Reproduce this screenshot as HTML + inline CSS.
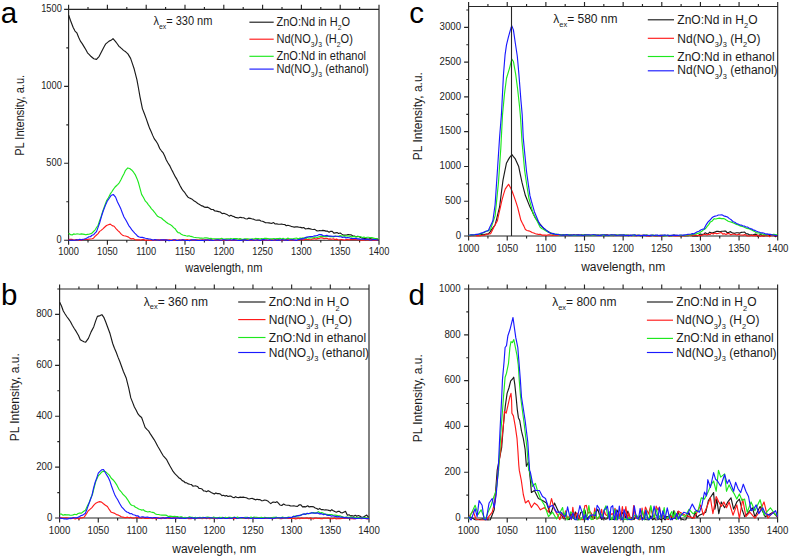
<!DOCTYPE html>
<html><head><meta charset="utf-8"><title>PL spectra</title>
<style>
html,body{margin:0;padding:0;background:#fff;width:789px;height:557px;overflow:hidden;}
svg{display:block;font-family:"Liberation Sans", sans-serif;}
</style></head><body>
<svg width="789" height="557" viewBox="0 0 789 557" font-family='"Liberation Sans", sans-serif'>
<rect width="789" height="557" fill="#fff"/>
<path d="M68.6 9.4H379V240.2H68.6Z M68.6 240.2v4.6 M68.6 9.4v-4.6 M88 240.2v2.4 M88 9.4v-2.4 M107.4 240.2v4.6 M107.4 9.4v-4.6 M126.8 240.2v2.4 M126.8 9.4v-2.4 M146.2 240.2v4.6 M146.2 9.4v-4.6 M165.6 240.2v2.4 M165.6 9.4v-2.4 M185 240.2v4.6 M185 9.4v-4.6 M204.4 240.2v2.4 M204.4 9.4v-2.4 M223.8 240.2v4.6 M223.8 9.4v-4.6 M243.2 240.2v2.4 M243.2 9.4v-2.4 M262.6 240.2v4.6 M262.6 9.4v-4.6 M282 240.2v2.4 M282 9.4v-2.4 M301.4 240.2v4.6 M301.4 9.4v-4.6 M320.8 240.2v2.4 M320.8 9.4v-2.4 M340.2 240.2v4.6 M340.2 9.4v-4.6 M359.6 240.2v2.4 M359.6 9.4v-2.4 M379 240.2v4.6 M379 9.4v-4.6 M68.6 240.2h-4.5 M68.6 163.27h-4.5 M68.6 86.33h-4.5 M68.6 9.4h-4.5 M68.6 201.73h-2.3 M68.6 124.8h-2.3 M68.6 47.87h-2.3" fill="none" stroke="#262626" stroke-width="1.15"/>
<clipPath id="clipa"><rect x="67.4" y="8.4" width="312" height="234.3"/></clipPath>
<g clip-path="url(#clipa)" fill="none" stroke-width="1.15" stroke-linejoin="round">
<polyline stroke="#1a1a1a" points="68.7,15.2 70.5,20.49 73.2,27.49 75,31.09 76.8,32.84 78.6,37.17 80.4,41.12 82.2,43.63 84,46.6 85.75,49.47 87.5,52.86 89.3,54.59 91.1,56.55 93.8,58.75 96.5,59.4 99.2,56.27 101.9,50.93 103.7,47.58 105.5,44.17 107.3,42.6 109.1,41.14 111.05,40.34 113,38.63 115.4,41.42 117.2,43.77 119,46.39 120.5,47.57 122,48.89 123.5,50.39 125.7,51.81 127.9,53.85 130.6,58.38 132.4,63.57 134.2,69.03 136.9,79.54 138.4,87.74 140,96.82 142.4,108.61 144.3,113.56 146.2,118.59 147.95,123.7 149.7,128.57 151.2,131.78 152.7,135.38 154.2,138.62 156,141.05 157.8,143.94 159.6,148.32 161.4,150.78 163.2,152.94 164.7,155.97 166.2,159.69 167.7,162.47 170,166.15 171.55,169.55 173.1,172.39 175.4,176.89 176.95,179.42 178.5,182.6 180.1,185.71 181.7,188.64 183.27,190.95 184.85,192.74 186.43,195.09 188,197.16 189.5,197.91 191,198.61 192.5,199.6 194.28,201.02 196.05,202.08 197.82,203.55 199.6,204.54 201.22,205.64 202.84,206.1 204.46,207.16 206.08,207.44 207.7,207.18 209.5,208.23 211.3,209.55 213.1,209.48 214.9,211.04 216.7,211.13 218.5,211.58 220.3,212.01 222.1,213.6 223.9,213.24 225.7,214.02 227.5,214.84 229.3,216.16 230.8,215.27 232.3,216.12 233.8,216.57 235.3,217.38 236.8,217.58 238.3,217.95 240.08,217.25 241.86,217.63 243.64,217.73 245.42,218.7 247.2,218.99 248.7,218.08 250.2,218.41 251.7,218.8 253.2,219.1 254.7,219.78 256.2,220.23 257.77,220.08 259.35,220.03 260.93,220.99 262.5,221.25 264.07,221.89 265.65,222.8 267.23,222.75 268.8,222.82 270.4,223.12 272,223.35 273.6,222.56 275.2,223.97 276.8,223.93 278.4,224.22 280,224.25 281.57,224.06 283.15,224.5 284.73,224.48 286.3,225.7 287.9,225.27 289.5,225.7 291.1,226.34 292.7,226.69 294.27,227.11 295.85,226.83 297.43,226.9 299,227.28 300.57,227.33 302.15,227.85 303.73,227.46 305.3,228.86 306.9,228.77 308.5,228.37 310.1,228.83 311.7,229.27 313.27,229.5 314.85,229.33 316.43,230.62 318,231.04 319.6,230.47 321.2,230.73 322.8,230.35 324.4,230.6 325.97,231.11 327.55,231.15 329.12,232.14 330.7,231.29 332.27,231.41 333.85,233.13 335.43,232.82 337,232.57 338.6,233.49 340.2,233.04 341.8,234.12 343.4,235.12 344.97,235.09 346.55,234.99 348.12,234.49 349.7,234.8 351.27,234.83 352.85,236.06 354.43,236.02 356,236.72 357.6,236.34 359.2,236.48 360.8,237.67 362.4,238.23 363.97,238.35 365.55,238.61 367.12,238.95 368.7,239.16 370.28,238.54 371.87,239.13 373.45,239.03 375.03,238.69 376.62,238.84 378.2,239.7"/>
<polyline stroke="#ff1a1a" points="68.6,239.5 70.17,239.33 71.73,239.33 73.3,239.75 74.87,240.01 76.43,239.58 78,240.04 79.57,240.11 81.13,240.11 82.7,239.6 84.27,239.5 85.83,239.53 87.4,239.53 88.93,239.06 90.45,238.96 91.97,238.74 93.5,238.21 95.03,236.35 96.57,234.97 98.1,233.57 99.6,231.39 101.1,230.38 102.6,229.07 104.55,227.25 106.5,225.53 108.4,224.83 110.3,224.11 112.2,225.66 114.1,226.25 116,228.57 117.9,230.62 119.45,232.01 121,233.91 122.5,235.17 124,235.74 125.5,236 127.03,236.54 128.55,237.14 130.07,238.39 131.6,238.88 133.14,238.56 134.68,239.45 136.22,239.87 137.76,239.86 139.3,239.87 140.8,240.04 142.3,239.67 143.81,239.57 145.31,240.43 146.81,240.14 148.31,240.03 149.81,240.4 151.31,239.95 152.82,240.34 154.32,240.3 155.82,239.75 157.32,239.79 158.82,239.83 160.33,239.78 161.83,240.09 163.33,239.8 164.83,239.94 166.33,239.68 167.84,240.39 169.34,239.89 170.84,239.98 172.34,240.1 173.84,240.39 175.34,239.95 176.85,240.4 178.35,240.03 179.85,240.05 181.35,240.05 182.85,239.59 184.36,239.97 185.86,239.74 187.36,239.58 188.86,240.3 190.36,239.74 191.87,240.01 193.37,240.24 194.87,240.09 196.37,239.88 197.87,240.05 199.37,240.09 200.88,240.29 202.38,239.68 203.88,240.09 205.38,239.81 206.88,239.84 208.39,240.29 209.89,240.05 211.39,240.1 212.89,240.28 214.39,240.42 215.9,240 217.4,240.15 218.9,240.05 220.4,240.06 221.9,240.22 223.4,240.01 224.91,240.08 226.41,240.03 227.91,240.45 229.41,240.24 230.91,240.4 232.42,240.46 233.92,239.84 235.42,240.11 236.92,240.46 238.42,240.37 239.93,239.74 241.43,239.72 242.93,240.01 244.43,239.68 245.93,239.83 247.43,239.68 248.94,240.22 250.44,240.32 251.94,240.43 253.44,239.76 254.94,240.27 256.45,240.22 257.95,239.75 259.45,240.42 260.95,240.5 262.45,239.82 263.96,240.48 265.46,239.99 266.96,240.07 268.46,240.52 269.96,240.38 271.46,239.78 272.97,240.02 274.47,240.1 275.97,239.94 277.47,239.81 278.97,239.92 280.48,240.29 281.98,239.66 283.48,240.14 284.98,240.04 286.48,239.66 287.99,239.94 289.49,240.2 290.99,240.11 292.49,239.7 293.99,240.53 295.49,240.36 297,240.52 298.5,239.74 300,239.89 301.67,239.57 303.33,240.12 305,239.54 306.67,239.3 308.33,239.45 310,239.77 311.51,239.52 313.03,238.84 314.54,238.57 316.06,239.09 317.57,238.61 319.09,238.55 320.6,237.83 322.17,237.9 323.73,238.57 325.3,238.43 326.87,238.22 328.43,239.09 330,238.92 331.67,239.24 333.33,238.76 335,239.62 336.67,239.08 338.33,239.96 340,239.76 341.52,239.67 343.04,239.88 344.56,240.23 346.08,239.66 347.6,239.55 349.12,239.92 350.64,239.68 352.16,239.58 353.68,239.64 355.2,239.56 356.72,239.71 358.24,239.82 359.76,239.83 361.28,240.26 362.8,239.85 364.32,240.06 365.84,239.78 367.36,239.95 368.88,239.67 370.4,239.9 371.92,239.7 373.44,240.36 374.96,240.21 376.48,239.9 378,240.2"/>
<polyline stroke="#1ee81e" points="68.6,233.3 70.6,234.78 72.13,234.92 73.67,233.91 75.2,234.29 76.72,233.94 78.25,234 79.78,234.3 81.3,233.9 82.83,234.13 84.35,234.42 85.88,234.81 87.4,234.36 88.93,234.3 90.47,233.69 92,233.12 93.5,231.51 95,230.06 96.55,227.5 98.1,225.27 99.6,220.65 101.1,216.68 102.6,211.68 104.55,206.25 106.5,200.83 108.4,197.71 110.3,193.93 111.83,191.72 113.37,189.34 114.9,187.27 116.4,185.78 117.9,184.4 119.4,182.59 120.95,179.8 122.5,176.59 124,173.77 125.5,170.33 127.8,167.94 129.7,168.47 131.6,169.92 133.55,172.23 135.5,175.17 137,178.65 138.5,182.79 140.05,188.63 141.6,194.4 143.5,197.53 145.4,201.2 146.93,202.68 148.45,204.84 149.97,206.61 151.5,208.81 153.03,210.39 154.55,212.27 156.07,214.42 157.6,216.26 159.5,217.33 161.4,218.03 162.93,219.49 164.47,220.68 166,221.99 168,223.49 170,224.4 171.8,225.69 173.6,227.64 175.1,228.68 176.6,231 178.1,232.73 179.68,232.86 181.25,234.25 182.82,234.98 184.4,235.41 185.96,235.79 187.53,236.13 189.09,235.8 190.65,236.42 192.21,236.68 193.78,237.25 195.34,237.5 196.9,237.79 198.47,237.71 200.05,238.13 201.62,238.08 203.2,238.22 204.78,237.94 206.35,237.9 207.93,238.13 209.5,238.47 211.03,238.26 212.55,238.93 214.07,238.7 215.6,238.77 217.12,238.79 218.65,238.85 220.18,238.7 221.7,238.27 223.22,239 224.75,238.97 226.28,238.77 227.8,238.81 229.32,238.94 230.85,238.42 232.38,239.04 233.9,238.62 235.43,238.47 236.95,238.66 238.47,239.09 240,238.63 241.54,239.11 243.08,239.31 244.62,238.87 246.15,238.76 247.69,238.84 249.23,239.02 250.77,239.09 252.31,238.94 253.85,238.96 255.38,238.44 256.92,238.5 258.46,238.59 260,239.02 261.54,238.62 263.08,238.85 264.62,238.34 266.15,238.37 267.69,238.55 269.23,238.91 270.77,238.92 272.31,238.9 273.85,238.54 275.38,238.74 276.92,238.68 278.46,238.68 280,238.36 281.54,239.03 283.08,238.38 284.62,239.06 286.15,239 287.69,238.15 289.23,238.52 290.77,238.83 292.31,238.94 293.85,238.45 295.38,238.26 296.92,238.19 298.46,238.82 300,238.14 301.5,238.37 303,237.88 304.5,238.12 306,238.41 307.5,237.57 309,238.09 310.5,237.71 312,237.95 313.67,237.62 315.33,237.02 317,237.46 318.67,236.92 320.33,236.34 322,236.15 323.67,236.63 325.33,236.62 327,236.52 328.67,236.41 330.33,236.63 332,236.63 333.63,236.93 335.26,236.01 336.89,236.51 338.51,236.42 340.14,235.6 341.77,236.16 343.4,235.79 344.97,236.12 346.55,235.74 348.12,235.97 349.7,236.15 351.27,236.86 352.85,236.66 354.43,236.61 356,236.84 357.59,236.77 359.18,236.64 360.76,236.77 362.35,237.5 363.94,237.08 365.52,237.74 367.11,237.2 368.7,237.29 370.28,237.69 371.87,237.59 373.45,237.94 375.03,238.64 376.62,238.76 378.2,238.6"/>
<polyline stroke="#1a1aff" points="68.6,240 70.19,240.24 71.77,240.04 73.36,240.26 74.95,240.25 76.54,239.86 78.12,239.97 79.71,239.33 81.3,239.91 82.83,239.21 84.35,239.03 85.88,238.48 87.4,237.71 88.93,236.72 90.45,236.73 91.97,235.24 93.5,234.77 95,233.16 96.5,231.62 98.05,227.42 99.6,223.03 101.5,216.28 103.4,210.54 105.3,205.62 107.2,201.25 109.1,198.45 111,195.6 113.3,194.5 115.6,197.14 117.5,201.97 119.4,205.8 120.93,209.11 122.47,213.3 124,216.95 125.53,219.49 127.07,222.24 128.6,225.32 130.13,227.3 131.67,229.59 133.2,231.43 134.73,233.07 136.27,234.58 137.8,236.36 139.33,237.05 140.85,237.32 142.38,237.42 143.9,237.82 145.42,238.28 146.94,238.51 148.46,238.83 149.98,238.95 151.5,239.5 153.11,240.18 154.72,239.47 156.33,239.87 157.94,240.04 159.56,240.3 161.17,239.78 162.78,239.88 164.39,239.92 166,240.11 167.5,240.15 169,240.6 170.5,240.51 172,240.53 173.5,239.76 175,239.77 176.5,240.37 178,240.54 179.5,240.16 181,240.26 182.5,239.73 184,240.08 185.5,240.55 187,240.46 188.5,240.49 190,240.59 191.5,239.93 193,239.81 194.5,239.85 196,240.17 197.5,240.32 199,240.55 200.5,240.35 202,240.28 203.5,240.38 205,240.1 206.5,240.18 208,239.72 209.5,240.39 211,239.89 212.5,240.51 214,240.26 215.5,239.95 217,239.79 218.5,239.9 220,240.24 221.5,240.29 223,239.76 224.5,239.72 226,240.13 227.5,240.18 229,240 230.5,239.85 232,240.19 233.5,239.66 235,239.92 236.5,240.06 238,240.5 239.5,240.22 241,240.43 242.5,240.06 244,239.84 245.5,239.85 247,240.49 248.5,240.26 250,239.9 251.5,239.64 253,240.07 254.5,240.22 256,239.99 257.5,239.84 259,240.21 260.5,240.44 262,239.81 263.5,239.63 265,239.9 266.5,239.98 268,240.21 269.5,239.77 271,240.31 272.5,240.25 274,240.04 275.5,239.77 277,240.45 278.5,239.86 280,240.32 281.5,239.78 283,239.77 284.5,240.25 286,239.83 287.5,240.42 289,240.01 290.5,239.73 292,239.76 293.5,239.93 295,240.15 296.5,240.41 298,239.68 299.82,239.38 301.65,238.69 303.48,238.85 305.3,237.58 306.9,237.1 308.5,236.7 310.1,236.6 311.7,236.66 313.22,236.31 314.74,235.83 316.26,235.73 317.78,235.33 319.3,234.45 321.2,234.62 323.1,235.59 325,235.72 326.9,235.35 328.8,236.18 330.7,236.19 332.38,236.29 334.07,236.35 335.75,236.3 337.43,236.25 339.12,236.6 340.8,236.77 342.53,237.51 344.27,236.96 346,237.92 347.67,237.45 349.33,237.8 351,238.44 352.67,238.66 354.33,238.52 356,238.39 357.57,238.88 359.14,238.89 360.71,239.48 362.29,238.92 363.86,239.18 365.43,239.76 367,239.08 368.57,239.52 370.14,239.98 371.71,240.04 373.29,239.49 374.86,239.58 376.43,239.71 378,240.2"/>
</g>
<g font-size="10" fill="#222">
<text transform="translate(68.6 254.5) scale(0.93 1)" text-anchor="middle">1000</text>
<text transform="translate(107.4 254.5) scale(0.93 1)" text-anchor="middle">1050</text>
<text transform="translate(146.2 254.5) scale(0.93 1)" text-anchor="middle">1100</text>
<text transform="translate(185 254.5) scale(0.93 1)" text-anchor="middle">1150</text>
<text transform="translate(223.8 254.5) scale(0.93 1)" text-anchor="middle">1200</text>
<text transform="translate(262.6 254.5) scale(0.93 1)" text-anchor="middle">1250</text>
<text transform="translate(301.4 254.5) scale(0.93 1)" text-anchor="middle">1300</text>
<text transform="translate(340.2 254.5) scale(0.93 1)" text-anchor="middle">1350</text>
<text transform="translate(379 254.5) scale(0.93 1)" text-anchor="middle">1400</text>
<text transform="translate(61.8 242.9) scale(0.93 1)" text-anchor="end">0</text>
<text transform="translate(61.8 165.97) scale(0.93 1)" text-anchor="end">500</text>
<text transform="translate(61.8 89.03) scale(0.93 1)" text-anchor="end">1000</text>
<text transform="translate(61.8 12.1) scale(0.93 1)" text-anchor="end">1500</text>
</g>
<text transform="translate(223.8 272) scale(0.92 1)" font-size="12" text-anchor="middle" fill="#1a1a1a">wavelength, nm</text>
<text transform="translate(23.7 115.35) rotate(-90) scale(0.92 1)" font-size="12" text-anchor="middle" fill="#1a1a1a">PL Intensity, a.u.</text>
<line x1="249.4" y1="22.2" x2="273.7" y2="22.2" stroke="#1a1a1a" stroke-width="1.15"/>
<text transform="translate(276.5 25.7) scale(0.92 1)" font-size="12" fill="#1a1a1a">ZnO:Nd in H<tspan font-size="7.44" dy="4.44">2</tspan><tspan dy="-4.44">O</tspan></text>
<line x1="249.4" y1="39.2" x2="273.7" y2="39.2" stroke="#ff1a1a" stroke-width="1.15"/>
<text transform="translate(276.5 42.7) scale(0.92 1)" font-size="12" fill="#1a1a1a">Nd(NO<tspan font-size="7.44" dy="4.44">3</tspan><tspan dy="-4.44">)</tspan><tspan font-size="7.44" dy="4.44">3</tspan><tspan dy="-4.44"> (H</tspan><tspan font-size="7.44" dy="4.44">2</tspan><tspan dy="-4.44">O)</tspan></text>
<line x1="249.4" y1="56.3" x2="273.7" y2="56.3" stroke="#1ee81e" stroke-width="1.15"/>
<text transform="translate(276.5 59.7) scale(0.92 1)" font-size="12" fill="#1a1a1a">ZnO:Nd in ethanol</text>
<line x1="249.4" y1="69.1" x2="273.7" y2="69.1" stroke="#1a1aff" stroke-width="1.15"/>
<text transform="translate(276.5 72.5) scale(0.92 1)" font-size="12" fill="#1a1a1a">Nd(NO<tspan font-size="7.44" dy="4.44">3</tspan><tspan dy="-4.44">)</tspan><tspan font-size="7.44" dy="4.44">3</tspan><tspan dy="-4.44"> (ethanol)</tspan></text>
<text transform="translate(153.4 25) scale(0.92 1)" font-size="12" fill="#1a1a1a">&#955;<tspan font-size="7.44" dy="3.96">ex</tspan><tspan dy="-3.96">= 330 nm</tspan></text>
<text x="0.8" y="22.8" font-size="29.5" fill="#000">a</text>
<path d="M59.6 289H369V518H59.6Z M59.6 518v4.6 M59.6 289v-4.6 M78.94 518v2.4 M78.94 289v-2.4 M98.28 518v4.6 M98.28 289v-4.6 M117.61 518v2.4 M117.61 289v-2.4 M136.95 518v4.6 M136.95 289v-4.6 M156.29 518v2.4 M156.29 289v-2.4 M175.62 518v4.6 M175.62 289v-4.6 M194.96 518v2.4 M194.96 289v-2.4 M214.3 518v4.6 M214.3 289v-4.6 M233.64 518v2.4 M233.64 289v-2.4 M252.97 518v4.6 M252.97 289v-4.6 M272.31 518v2.4 M272.31 289v-2.4 M291.65 518v4.6 M291.65 289v-4.6 M310.99 518v2.4 M310.99 289v-2.4 M330.32 518v4.6 M330.32 289v-4.6 M349.66 518v2.4 M349.66 289v-2.4 M369 518v4.6 M369 289v-4.6 M59.6 518h-4.5 M59.6 467.11h-4.5 M59.6 416.22h-4.5 M59.6 365.33h-4.5 M59.6 314.44h-4.5 M59.6 492.56h-2.3 M59.6 441.67h-2.3 M59.6 390.78h-2.3 M59.6 339.89h-2.3 M59.6 289h-2.3" fill="none" stroke="#262626" stroke-width="1.15"/>
<clipPath id="clipb"><rect x="58.4" y="288" width="311" height="232.5"/></clipPath>
<g clip-path="url(#clipb)" fill="none" stroke-width="1.15" stroke-linejoin="round">
<polyline stroke="#1a1a1a" points="59.7,302.2 61.5,306.05 63.3,311.05 65.1,314 66.9,316.74 68.7,319.1 70.5,321.76 72.3,325.32 74.1,328.27 76.3,331.66 78.5,335.53 80.3,339.79 82.1,340.82 83.9,341.7 85.7,342.15 88.4,338.35 91.1,331.88 93.8,326.67 95.6,321.16 97.4,316.34 100.1,315.59 101.9,314.67 104,317.67 105.65,321.83 107.3,326.25 110,333.56 112.7,343.5 114.45,348.26 116.2,352.31 118,357.13 119.8,361.54 121.6,366.54 123.4,371.46 126.1,377.66 128.8,388.3 130.8,397.89 132.6,402.37 134.4,407.07 136.2,410.25 138,413.92 139.8,416.05 141.6,417.55 143.35,422.39 145.1,427.32 146.9,429.43 148.7,431.1 150.5,434.19 152.3,436.83 154.1,439.59 155.9,442.76 157.7,446.25 159.5,449.22 161.3,452.43 163.1,455.53 164.9,457.62 166.7,459.74 168.35,462.9 170,466.07 171.55,468.75 173.1,471.45 174.6,473.27 176.1,474.93 177.6,476.37 179.13,478.1 180.67,478.87 182.2,480.61 183.72,481.25 185.25,482.78 186.78,482.87 188.3,483.9 189.83,484.28 191.37,484.51 192.9,486.06 194.43,485.96 195.97,485.94 197.5,486.43 199.03,488.34 200.55,488.51 202.07,489.02 203.6,490.89 205.12,490.95 206.64,491.79 208.16,490.66 209.68,491.56 211.2,492.41 212.75,493.19 214.3,494.06 215.83,492.95 217.35,493.64 218.88,493.65 220.4,494.05 221.93,495.59 223.45,495.26 224.97,496.1 226.5,495.5 228.02,496.55 229.53,496.15 231.05,496.12 232.57,497.21 234.08,497.75 235.6,496.67 237.14,497.53 238.68,497.65 240.22,497.09 241.76,497.41 243.3,497.13 244.82,497.48 246.33,497.81 247.85,498.61 249.37,498.94 250.88,498.48 252.4,498.42 253.93,499.11 255.47,499.85 257,499.25 258.53,499.63 260.07,499.64 261.6,500.77 263.12,500.58 264.65,500 266.18,500.26 267.7,500.93 269.25,502.33 270.8,503.62 272.32,502.35 273.85,502.06 275.38,502.51 276.9,501.66 278.4,503.2 279.9,504.99 281.75,505.53 283.6,504 285.4,505.01 287.2,505.27 288.8,505.27 290.4,505.88 292,505.99 293.85,505.73 295.7,506.22 297.5,506.31 299.3,504.73 300.9,504.91 302.5,506.84 304.1,506.58 305.9,506.81 307.7,505.75 309.2,506.94 310.7,506.69 312.2,506.64 313.7,506.82 315.2,508.06 316.7,508.58 318.2,509.38 319.7,508.44 321.23,509.6 322.75,509.49 324.27,510.01 325.8,509.73 327.3,509.95 328.8,510.33 330.3,510.98 331.8,509.67 333.3,510.68 334.8,511.59 336.3,512.25 337.8,511.42 339.4,511.37 341,512.74 342.6,512.86 344.1,512.07 345.6,511.39 347.4,515.28 349,514.72 350.6,515.85 352.2,515.69 353.73,516.14 355.25,515.21 356.77,516.33 358.3,515.56 359.8,516.1 361.3,517.05 362.8,517.28 364.3,516.49 366.7,515.05 368.9,517.6"/>
<polyline stroke="#ff1a1a" points="59.6,517.9 61.22,517.86 62.83,518.05 64.45,517.97 66.07,517.75 67.68,517.96 69.3,518.55 70.92,518.8 72.53,517.93 74.15,518.57 75.77,518.85 77.38,518.13 79,519.07 80.7,517.78 82.4,517.81 84.1,517.26 86.05,514.44 88,511.19 89.95,509.36 91.9,507.59 93.85,505.17 95.8,503.17 97.7,502.29 99.6,501.63 101.55,502.13 103.5,503.73 105.45,505.19 107.4,506.51 109.35,509.69 111.3,512.31 113,512.82 114.7,513.38 116.4,514.57 118.03,514.92 119.65,515.69 121.28,516.77 122.9,517.15 124.45,517.56 126,517.66 127.55,517.16 129.1,517.84 130.65,517.25 132.2,517.99 133.75,518.06 135.3,517.79 136.85,517.31 138.4,517.83 139.95,517.72 141.5,518.37 143.05,517.5 144.6,518.31 146.15,518.49 147.7,518.22 149.25,518.33 150.8,517.67 152.35,518.56 153.9,518.05 155.45,518.58 157,518.56 158.5,517.73 160.01,518.42 161.51,518.58 163.01,517.63 164.52,517.95 166.02,518.4 167.52,517.74 169.03,518.56 170.53,517.88 172.04,518.48 173.54,517.74 175.04,518.14 176.55,518.6 178.05,517.82 179.55,517.88 181.06,518.15 182.56,517.95 184.06,517.64 185.57,517.8 187.07,517.78 188.57,518.64 190.08,518.36 191.58,518.6 193.09,517.8 194.59,518.48 196.09,517.75 197.6,518.21 199.1,518.33 200.6,518.03 202.11,518.6 203.61,518.25 205.11,518.28 206.62,518.61 208.12,517.76 209.62,518.74 211.13,518.34 212.63,518.09 214.13,518.54 215.64,517.95 217.14,518.75 218.65,518.3 220.15,518.07 221.65,518.51 223.16,518.16 224.66,517.87 226.16,518.5 227.67,517.74 229.17,518.59 230.67,517.97 232.18,518.4 233.68,518.78 235.18,518.34 236.69,518.43 238.19,518.05 239.7,517.71 241.2,517.75 242.7,517.88 244.21,518.39 245.71,518.19 247.21,518.28 248.72,518.71 250.22,517.87 251.72,517.98 253.23,518.45 254.73,517.76 256.23,517.74 257.74,518.13 259.24,517.86 260.74,518.14 262.25,518 263.75,518.39 265.26,518.4 266.76,517.98 268.26,518.45 269.77,518.29 271.27,517.91 272.77,518.8 274.28,518.04 275.78,517.94 277.28,517.88 278.79,518.48 280.29,518.74 281.79,518.65 283.3,518.23 284.8,518.08 286.3,517.81 287.81,518.51 289.31,518.42 290.82,518.19 292.32,518.52 293.82,518.3 295.33,518.84 296.83,518.62 298.33,518.09 299.84,518.81 301.34,517.87 302.84,518.41 304.35,518.27 305.85,518.09 307.35,517.9 308.86,518.69 310.36,517.85 311.87,518.45 313.37,518.88 314.87,518 316.38,518.07 317.88,518.52 319.38,518.41 320.89,518.56 322.39,518.76 323.89,518.06 325.4,518.21 326.9,518.2 328.4,517.93 329.91,518.85 331.41,518.74 332.91,518.67 334.42,517.89 335.92,518.82 337.43,518.71 338.93,518.41 340.43,518.71 341.94,518.4 343.44,518.15 344.94,518.02 346.45,518.16 347.95,517.95 349.45,518.28 350.96,518.74 352.46,518.68 353.96,518.85 355.47,518.71 356.97,518.22 358.48,518.54 359.98,518.41 361.48,518.8 362.99,518.51 364.49,518.23 365.99,518.65 367.5,519.01 369,518.5"/>
<polyline stroke="#1ee81e" points="59.6,514 61.33,514.09 63.07,515.22 64.8,514.67 66.5,514.84 68.2,514.71 69.9,515.17 71.53,515.24 73.15,514.87 74.78,514.26 76.4,514.72 78.1,513.58 79.8,512.95 81.5,513.15 83.45,511.54 85.4,510.31 87.35,506.08 89.3,502.23 90.9,497.77 92.5,494.27 94.15,487.67 95.8,481.39 98.3,475.73 99.95,474.15 101.6,472.08 104.2,471.09 105.8,471.98 107.4,473.43 109.35,475.09 111.3,478.25 113.2,479.96 115.1,482.38 117.05,485.42 119,489.27 120.95,491.53 122.9,494.21 124.4,495.58 125.9,497.1 127.4,499.31 129,501.85 130.6,504.52 132.22,505.51 133.85,505.72 135.47,507.25 137.1,507.95 138.66,508.97 140.22,509.49 141.78,510.09 143.34,509.7 144.9,511.1 146.41,511.57 147.93,512.01 149.44,511.51 150.95,512.03 152.46,512.34 153.97,512.66 155.49,513.97 157,514.34 158.62,514.46 160.25,514.98 161.88,515.08 163.5,515.02 165.12,515.12 166.75,515.43 168.38,516.47 170,516.18 171.5,516.38 173,516.58 174.5,516.21 176,516.55 177.5,516.66 179,517.22 180.5,516.91 182,516.94 183.5,517.73 185,517.3 186.5,517.72 188,517.49 189.5,516.87 191,517.32 192.5,517.38 194,517.78 195.5,517.34 197,517.77 198.5,517.61 200,517.29 201.5,518 203,517.15 204.5,517.95 206,517.23 207.5,517.04 209,517.26 210.5,517.88 212,518.11 213.5,517.04 215,517.57 216.5,517.57 218,517.91 219.5,517.23 221,517.57 222.5,517.41 224,517.94 225.5,517.31 227,518.06 228.5,517.33 230,517.25 231.5,517.78 233,517.56 234.5,517.13 236,517.71 237.5,517.1 239,517.87 240.5,517.77 242,517.87 243.5,517.69 245,517.39 246.5,517.44 248,517.43 249.5,517.97 251,517.09 252.5,517.97 254,517.02 255.5,517.22 257,517.28 258.5,517.98 260,517.53 261.5,517.4 263,517.95 264.5,517.24 266,517.48 267.5,517.56 269,517.8 270.5,517.8 272,517.68 273.5,517.35 275,517.33 276.5,517.14 278,517.89 279.5,517.69 281,517.78 282.5,517.14 284,517.44 285.5,517.81 287,517.59 288.5,517.09 290,517.46 291.67,517.56 293.33,516.48 295,516.06 296.67,515.81 298.33,515.89 300,515.68 301.67,514.6 303.33,514.29 305,514.07 306.67,513.84 308.33,513.74 310,513.03 311.7,512.95 313.4,512.54 315.1,513.14 316.8,512.61 318.5,511.66 320.12,513.03 321.75,512.51 323.38,513.25 325,514.33 326.67,514.39 328.33,514.59 330,514.53 331.67,514.53 333.33,515.29 335,514.97 336.67,515.36 338.33,515.84 340,515.74 341.67,516.42 343.33,517.14 345,517.31 346.5,517.16 348,517.36 349.5,517.23 351,516.93 352.5,517.5 354,517.33 355.5,517.76 357,518 358.5,517.53 360,517.74 361.5,517.99 363,517.69 364.5,517.53 366,518.13 367.5,518.36 369,518"/>
<polyline stroke="#1a1aff" points="59.6,517.9 61.14,518.4 62.68,518.52 64.22,518.89 65.76,518.9 67.3,519.06 68.82,518.63 70.33,518.26 71.85,518.39 73.37,517.59 74.88,517.73 76.4,517.91 78,517.23 79.6,516.54 81.2,515.53 82.8,515.12 85.4,513.25 87.05,508.93 88.7,504.2 90.3,499.94 91.9,495.67 93.5,488.4 95.1,482.47 96.7,478.11 98.3,473.18 99.95,471.34 101.6,469.92 103.5,469.49 106.1,473.95 108.05,477.08 110,481.31 111.5,486.02 113,490.09 114.5,494.16 116.1,497.23 117.7,499.75 119.65,503.49 121.6,506.81 123.33,508.69 125.07,510.63 126.8,512.02 128.4,512.55 130,513.79 131.6,513.63 133.2,514.8 134.76,515 136.32,515.93 137.88,515.74 139.44,517.21 141,517.04 142.6,516.79 144.2,517.11 145.8,517.33 147.4,516.98 149,517.51 150.6,517.59 152.2,517.98 153.8,517.68 155.4,517.66 157,517.7 158.51,518.27 160.01,518.49 161.52,518.03 163.02,517.7 164.53,518.34 166.04,517.89 167.54,517.69 169.05,517.6 170.55,518.31 172.06,518.35 173.56,518.16 175.07,517.98 176.58,518.08 178.08,517.72 179.59,518.53 181.09,517.86 182.6,518.17 184.11,518.37 185.61,518.37 187.12,517.99 188.62,517.8 190.13,518.08 191.64,517.61 193.14,518.4 194.65,517.87 196.15,518.42 197.66,517.78 199.16,517.9 200.67,517.76 202.18,517.95 203.68,517.69 205.19,517.49 206.69,518.28 208.2,517.8 209.71,517.76 211.21,517.82 212.72,518.02 214.22,517.97 215.73,518.2 217.24,518.22 218.74,517.9 220.25,518.52 221.75,518.44 223.26,517.56 224.76,518.41 226.27,518.5 227.78,518.37 229.28,517.66 230.79,518.42 232.29,518.21 233.8,517.53 235.31,517.52 236.81,518.56 238.32,518.24 239.82,517.79 241.33,517.63 242.84,517.67 244.34,517.78 245.85,518.37 247.35,517.9 248.86,517.69 250.36,518.52 251.87,518.39 253.38,517.71 254.88,518.51 256.39,518.2 257.89,518.39 259.4,518.27 260.91,518.51 262.41,518.4 263.92,518.46 265.42,517.75 266.93,518.3 268.44,518.12 269.94,518.35 271.45,518.02 272.95,518.51 274.46,518.15 275.96,517.83 277.47,517.8 278.98,517.7 280.48,518.09 281.99,517.61 283.49,518.06 285,517.71 286.75,517.84 288.5,517.6 290.25,517.39 292,517.5 293.51,516.17 295.02,516.7 296.54,515.9 298.05,515.62 299.56,515.34 301.08,515.15 302.59,514.25 304.1,513.91 305.6,514.34 307.1,513.21 308.6,513.66 310.1,513.5 311.6,512.67 313.1,513.15 314.6,513.06 316.1,513.17 317.61,512.83 319.12,513.85 320.64,513.65 322.15,513.93 323.66,514.7 325.18,514.06 326.69,515.13 328.2,515.34 329.7,515.26 331.2,516.07 332.7,515.77 334.2,516.12 335.7,516.42 337.2,516.92 338.7,516.54 340.2,517.03 341.7,517.14 343.2,517.41 344.7,517.83 346.2,517.37 347.7,518.09 349.2,517.74 350.7,517.98 352.2,517.85 353.73,518.13 355.25,518.68 356.78,518.35 358.31,518.53 359.84,518.05 361.36,518.06 362.89,518.07 364.42,518.41 365.95,518.49 367.47,518.69 369,518.4"/>
</g>
<g font-size="10" fill="#222">
<text transform="translate(59.6 533.6) scale(0.97 1)" text-anchor="middle">1000</text>
<text transform="translate(98.28 533.6) scale(0.97 1)" text-anchor="middle">1050</text>
<text transform="translate(136.95 533.6) scale(0.97 1)" text-anchor="middle">1100</text>
<text transform="translate(175.62 533.6) scale(0.97 1)" text-anchor="middle">1150</text>
<text transform="translate(214.3 533.6) scale(0.97 1)" text-anchor="middle">1200</text>
<text transform="translate(252.97 533.6) scale(0.97 1)" text-anchor="middle">1250</text>
<text transform="translate(291.65 533.6) scale(0.97 1)" text-anchor="middle">1300</text>
<text transform="translate(330.32 533.6) scale(0.97 1)" text-anchor="middle">1350</text>
<text transform="translate(369 533.6) scale(0.97 1)" text-anchor="middle">1400</text>
<text transform="translate(52.4 520.7) scale(0.97 1)" text-anchor="end">0</text>
<text transform="translate(52.4 469.81) scale(0.97 1)" text-anchor="end">200</text>
<text transform="translate(52.4 418.92) scale(0.97 1)" text-anchor="end">400</text>
<text transform="translate(52.4 368.03) scale(0.97 1)" text-anchor="end">600</text>
<text transform="translate(52.4 317.14) scale(0.97 1)" text-anchor="end">800</text>
</g>
<text transform="translate(214.3 552.8)" font-size="12" text-anchor="middle" fill="#1a1a1a">wavelength, nm</text>
<text transform="translate(18.9 397.3) rotate(-90)" font-size="12" text-anchor="middle" fill="#1a1a1a">PL Intensity, a.u.</text>
<line x1="238.2" y1="302" x2="265.5" y2="302" stroke="#1a1a1a" stroke-width="1.15"/>
<text transform="translate(268.8 306.1)" font-size="12" fill="#1a1a1a">ZnO:Nd in H<tspan font-size="7.44" dy="4.44">2</tspan><tspan dy="-4.44">O</tspan></text>
<line x1="238.2" y1="319.6" x2="265.5" y2="319.6" stroke="#ff1a1a" stroke-width="1.15"/>
<text transform="translate(268.8 324.2)" font-size="12" fill="#1a1a1a">Nd(NO<tspan font-size="7.44" dy="4.44">3</tspan><tspan dy="-4.44">)</tspan><tspan font-size="7.44" dy="4.44">3</tspan><tspan dy="-4.44"> (H</tspan><tspan font-size="7.44" dy="4.44">2</tspan><tspan dy="-4.44">O)</tspan></text>
<line x1="238.2" y1="337.5" x2="265.5" y2="337.5" stroke="#1ee81e" stroke-width="1.15"/>
<text transform="translate(268.8 341.8)" font-size="12" fill="#1a1a1a">ZnO:Nd in ethanol</text>
<line x1="238.2" y1="352.5" x2="265.5" y2="352.5" stroke="#1a1aff" stroke-width="1.15"/>
<text transform="translate(268.8 356.7)" font-size="12" fill="#1a1a1a">Nd(NO<tspan font-size="7.44" dy="4.44">3</tspan><tspan dy="-4.44">)</tspan><tspan font-size="7.44" dy="4.44">3</tspan><tspan dy="-4.44"> (ethanol)</tspan></text>
<text transform="translate(143.8 305.5)" font-size="12" fill="#1a1a1a">&#955;<tspan font-size="7.44" dy="3.96">ex</tspan><tspan dy="-3.96">= 360 nm</tspan></text>
<text x="1" y="304.7" font-size="29.5" fill="#000">b</text>
<path d="M468.6 6.5H777.7V236H468.6Z M468.6 236v4.6 M468.6 6.5v-4.6 M487.92 236v2.4 M487.92 6.5v-2.4 M507.24 236v4.6 M507.24 6.5v-4.6 M526.56 236v2.4 M526.56 6.5v-2.4 M545.88 236v4.6 M545.88 6.5v-4.6 M565.19 236v2.4 M565.19 6.5v-2.4 M584.51 236v4.6 M584.51 6.5v-4.6 M603.83 236v2.4 M603.83 6.5v-2.4 M623.15 236v4.6 M623.15 6.5v-4.6 M642.47 236v2.4 M642.47 6.5v-2.4 M661.79 236v4.6 M661.79 6.5v-4.6 M681.11 236v2.4 M681.11 6.5v-2.4 M700.43 236v4.6 M700.43 6.5v-4.6 M719.74 236v2.4 M719.74 6.5v-2.4 M739.06 236v4.6 M739.06 6.5v-4.6 M758.38 236v2.4 M758.38 6.5v-2.4 M777.7 236v4.6 M777.7 6.5v-4.6 M468.6 236h-4.5 M468.6 201.23h-4.5 M468.6 166.45h-4.5 M468.6 131.68h-4.5 M468.6 96.91h-4.5 M468.6 62.14h-4.5 M468.6 27.36h-4.5 M468.6 218.61h-2.3 M468.6 183.84h-2.3 M468.6 149.07h-2.3 M468.6 114.3h-2.3 M468.6 79.52h-2.3 M468.6 44.75h-2.3 M468.6 9.98h-2.3" fill="none" stroke="#262626" stroke-width="1.15"/>
<clipPath id="clipc"><rect x="467.4" y="5.5" width="310.7" height="233"/></clipPath>
<g clip-path="url(#clipc)" fill="none" stroke-width="1.15" stroke-linejoin="round">
<polyline stroke="#1a1a1a" points="468.6,235.5 470.23,235.15 471.86,235.49 473.49,235.52 475.11,235.24 476.74,234.87 478.37,234.95 480,234.7 481.68,234.57 483.36,234.77 485.04,234.35 486.72,234.13 488.4,233.97 490.07,231.82 491.75,229.42 493.43,227.2 495.1,224.98 496.6,219.02 498.1,212.96 499.6,207.01 501.3,193.28 503,180.1 504.7,171.57 506.4,163.36 508.05,160.16 509.7,157.41 512,154.62 513.65,156.96 515.3,158.95 517,162.74 518.7,166.52 520.35,174.64 522,182.47 523.7,189.04 525.4,195.55 526.9,199.31 528.4,203.12 529.9,206.79 531.77,210.59 533.63,214.45 535.5,218.36 537.17,220.08 538.85,222.64 540.53,224.57 542.2,226.87 543.7,228.4 545.2,229.38 546.7,230.7 548.2,231.53 549.7,232.39 551.2,233.73 552.7,234.06 554.2,234.46 555.7,234.69 557.2,234.59 558.7,234.75 560.2,234.76 561.72,235.09 563.23,234.84 564.75,234.81 566.27,234.73 567.78,234.73 569.3,235.15 570.82,234.82 572.33,235.33 573.85,234.81 575.36,235.29 576.88,234.85 578.4,234.79 579.91,235.21 581.43,234.93 582.95,235.24 584.46,234.91 585.98,234.84 587.5,235.28 589.01,235.25 590.53,235.34 592.05,235.27 593.56,234.89 595.08,235.22 596.59,235.28 598.11,235.13 599.63,235.42 601.14,235.02 602.66,235.46 604.18,235.31 605.69,234.9 607.21,234.91 608.73,235.29 610.24,235.4 611.76,234.96 613.28,235.11 614.79,235.37 616.31,235.03 617.83,235.46 619.34,235.24 620.86,234.99 622.37,235.18 623.89,235.31 625.41,235.24 626.92,235.38 628.44,235.07 629.96,235.47 631.47,235.22 632.99,235.39 634.51,235.39 636.02,235.27 637.54,235.25 639.06,235.5 640.57,235.6 642.09,235.51 643.61,235.39 645.12,235.23 646.64,235.1 648.15,235.65 649.67,235.5 651.19,235.58 652.7,235.29 654.22,235.46 655.74,235.69 657.25,235.6 658.77,235.47 660.29,235.3 661.8,235.38 663.32,235.66 664.84,235.36 666.35,235.55 667.87,235.51 669.38,235.69 670.9,235.65 672.42,235.34 673.93,235.18 675.45,235.34 676.97,235.44 678.48,235.55 680,235.69 681.58,235.71 683.17,235.18 684.75,235.62 686.33,235.59 687.92,235.6 689.5,235.39 691.08,234.87 692.67,236 694.25,235.89 695.83,235.62 697.42,236.05 699,234.89 700.52,233.93 702.04,234.43 703.56,234.47 705.08,232.84 706.6,233.5 708.2,233.71 709.8,232.17 711.4,232.76 713,232.76 714.67,232.13 716.33,231.41 718,231.31 719.9,231.75 721.8,231.28 723.7,231.17 725.6,230.98 727.12,232.53 728.64,232.58 730.16,231.63 731.68,232.44 733.2,233.19 734.8,233.32 736.4,232.74 738,232.8 739.6,233.18 741.27,232.31 742.93,232.25 744.6,232.16 746.3,233.9 748,233.93 749.7,235.03 751.29,234.75 752.88,235.03 754.46,234.35 756.05,234.19 757.64,236.14 759.23,234.95 760.81,234.46 762.4,235.57 764.02,235.93 765.64,234.72 767.27,235.66 768.89,235.21 770.51,235.62 772.13,234.67 773.76,234.76 775.38,236.73 777,235.8"/>
<polyline stroke="#ff1a1a" points="468.6,235.8 470.23,235.99 471.86,235.73 473.49,235.75 475.11,235.54 476.74,235.82 478.37,235.58 480,235.87 481.53,235.5 483.06,235.28 484.59,235.11 486.11,234.42 487.64,234.04 489.17,233.88 490.7,233.61 492.38,230.2 494.05,226.83 495.72,223.78 497.4,220.62 498.9,213.64 500.4,207.2 501.9,200.45 503.55,194.34 505.2,189.06 506.9,186.69 508.6,184.27 510.8,188.18 512.5,192.2 514.2,196.84 515.9,201.93 517.6,207.17 519.25,213.75 520.9,220.34 522.4,223.34 523.9,226.13 525.4,229.58 527.08,230.45 528.75,230.83 530.42,231.57 532.1,232.55 533.78,232.99 535.47,233.71 537.15,234.09 538.83,234.44 540.52,234.34 542.2,235.17 543.71,235.13 545.23,235.11 546.74,235.32 548.26,234.77 549.77,234.83 551.29,235.21 552.8,235.33 554.31,235.18 555.83,234.96 557.34,235.14 558.86,235.25 560.37,234.87 561.89,235.01 563.4,234.98 564.91,234.91 566.43,235.13 567.94,234.95 569.46,235 570.97,234.95 572.49,235.28 574,234.89 575.51,235.32 577.03,235.02 578.54,234.93 580.06,235.48 581.57,235.06 583.09,235.5 584.6,235.47 586.11,235.49 587.63,235.05 589.14,235.24 590.66,235.04 592.17,235.55 593.69,235.5 595.2,235.38 596.71,235.29 598.23,235.23 599.74,235.53 601.26,235.33 602.77,235.43 604.29,235.15 605.8,235.2 607.31,235.11 608.83,235.52 610.34,235.43 611.86,235.19 613.37,235.64 614.89,235.28 616.4,235.38 617.91,235.23 619.43,235.31 620.94,235.66 622.46,235.37 623.97,235.28 625.49,235.48 627,235.38 628.51,235.74 630.03,235.28 631.54,235.81 633.06,235.26 634.57,235.77 636.09,235.65 637.6,235.38 639.11,235.55 640.63,235.44 642.14,235.43 643.66,235.41 645.17,235.52 646.69,235.9 648.2,235.91 649.71,235.88 651.23,235.39 652.74,235.52 654.26,235.89 655.77,235.39 657.29,235.8 658.8,235.55 660.31,235.97 661.83,235.4 663.34,235.89 664.86,235.62 666.37,235.5 667.89,235.43 669.4,235.94 670.91,235.76 672.43,235.57 673.94,235.73 675.46,236.02 676.97,235.61 678.49,235.83 680,235.58 681.59,235.58 683.17,235.91 684.76,235.85 686.35,235.52 687.94,235.42 689.53,235.4 691.11,235.8 692.7,235.59 694.28,235.15 695.85,234.95 697.42,235.52 699,235.58 700.58,235.66 702.15,235.21 703.72,234.51 705.3,234.21 706.89,235.01 708.47,234.23 710.06,234.47 711.65,233.14 713.24,234.08 714.83,233.06 716.41,233.61 718,233.38 719.6,233.01 721.2,232.47 722.8,234.13 724.4,233.66 725.98,234.45 727.55,233.63 729.12,233.65 730.7,234.83 732.27,234.24 733.85,234.06 735.42,234.54 737,235.05 738.58,234.17 740.17,235.05 741.75,234.99 743.33,235.16 744.92,234.58 746.5,235.59 748.08,235.81 749.67,235.95 751.25,235.14 752.83,235.82 754.42,235.35 756,236 757.5,234.94 759,236.28 760.5,236.46 762,235.76 763.5,235.84 765,235.91 766.5,235.96 768,235.18 769.5,236.73 771,235.59 772.5,235.56 774,235.48 775.5,235.76 777,236.2"/>
<polyline stroke="#1ee81e" points="468.6,235.5 470.16,235.61 471.71,234.84 473.27,234.75 474.83,235.09 476.39,234.54 477.94,234.26 479.5,234.58 481.1,233.82 482.7,233.03 484.3,232.43 485.9,231.21 487.5,231.08 489.1,230.22 490.7,228.94 492.9,222.3 495.1,215.89 496.8,199.1 498.5,182.12 500.8,148.3 502.5,114.92 504.5,93.61 506.5,78.27 509.4,68.59 511.8,59.12 513.4,61.46 515.7,74.4 517.7,89.73 519.7,108.06 520.6,118.35 522,141.81 524.7,170.94 526.75,184.77 528.8,198.02 530.3,203.15 531.8,208.82 533.3,213.92 534.97,216.92 536.65,220.19 538.33,223.62 540,227.05 541.67,228.47 543.33,229.31 545,230.38 546.67,231.29 548.33,232.29 550,232.64 551.67,233.35 553.33,234.03 555,234.35 556.67,234.13 558.33,234.6 560,235.11 561.5,234.9 563,235.04 564.5,234.68 566,234.98 567.5,235.04 569,234.66 570.5,234.76 572,235.44 573.5,235.29 575,235.42 576.5,235.19 578,235.34 579.5,235.4 581,235.41 582.5,234.74 584,235.23 585.5,234.94 587,235.28 588.5,234.96 590,235.18 591.5,235.5 593,235.26 594.5,234.97 596,235.2 597.5,235.13 599,235.56 600.5,235.03 602,235.05 603.5,235.34 605,234.92 606.5,235.31 608,235.6 609.5,235.26 611,235.07 612.5,235.24 614,235.3 615.5,235 617,234.98 618.5,235 620,235.13 621.5,235.23 623,235.15 624.5,235.12 626,235 627.5,235.37 629,235.62 630.5,235.44 632,235.42 633.5,235.49 635,235.14 636.5,235.55 638,235.36 639.5,235.44 641,235.5 642.5,235.39 644,235.27 645.5,235.22 647,235.21 648.5,235.45 650,235.36 651.5,235.53 653,235.07 654.5,235.35 656,235.77 657.5,235.28 659,235.54 660.5,235.5 662,235.34 663.5,235.91 665,235.36 666.5,235.75 668,235.27 669.5,235.2 671,235.85 672.5,235.51 674,235.22 675.5,235.49 677,235.54 678.5,235.78 680,235.29 681.67,235.28 683.33,235.77 685,235.49 686.67,234.92 688.33,234.97 690,234.88 691.5,234.81 693,234.43 694.5,234.28 696,233.92 697.5,233.35 699,233.19 700.58,232.09 702.15,231.01 703.72,229.68 705.3,228.83 707,226.63 708.7,224.67 710.4,221.9 712.3,220.95 714.2,218.7 715.9,218.98 717.6,218.5 719.3,218.1 721.5,218.62 723.7,218.46 725.2,219.2 726.7,220.36 728.2,221.3 729.78,221.71 731.35,222.15 732.92,222.84 734.5,223.47 736.08,224.33 737.65,224.63 739.22,225.36 740.8,226.14 742.32,226.51 743.84,226.96 745.36,227.83 746.88,228.38 748.4,228.6 749.92,229.32 751.44,229.87 752.96,230.72 754.48,231.36 756,232.46 757.54,232.85 759.08,232.83 760.62,233.88 762.16,233.78 763.7,234.57 765.36,234.65 767.03,234.82 768.69,234.29 770.35,234.54 772.01,235 773.67,234.36 775.34,234.46 777,234.9"/>
<polyline stroke="#1a1aff" points="468.6,235.2 470.16,235.05 471.71,234.8 473.27,234.94 474.83,234.62 476.39,234.23 477.94,234.4 479.5,233.81 481.28,233.15 483.06,232.63 484.84,231.73 486.62,231.05 488.4,230.58 489.9,227.01 491.4,224.12 492.9,220.54 495.1,204.72 497.4,170.68 499.6,137.3 501.4,114.92 503.5,74.25 505.1,54.56 506.5,44.9 508.4,37.07 511,27.79 511.8,25.85 513.4,29.9 515.3,43 517.3,56.27 518.9,74.22 520.9,100.15 522.2,114.74 523.2,137.25 524.85,154.58 526.5,171.26 528.2,183.36 529.9,195.39 531.4,201.25 532.9,206.32 534.4,211.66 536.27,216.29 538.13,220.71 540,224.84 541.5,225.93 543,227.33 544.5,228.81 546,230.1 547.5,231.15 549,232.45 550.6,233.13 552.2,233.44 553.8,233.57 555.4,234.41 557,234.45 558.6,234.31 560.2,234.93 561.72,235.24 563.23,234.86 564.75,235.17 566.27,234.62 567.78,234.87 569.3,235.3 570.82,235.1 572.33,235.17 573.85,234.8 575.36,235.05 576.88,235.1 578.4,234.87 579.91,235.18 581.43,235.1 582.95,235.47 584.46,235.14 585.98,235.01 587.5,234.79 589.01,234.82 590.53,235.31 592.05,234.79 593.56,234.79 595.08,234.85 596.59,235.14 598.11,235.39 599.63,235.22 601.14,235.38 602.66,234.79 604.18,234.76 605.69,235.37 607.21,235.02 608.73,235.33 610.24,235.05 611.76,234.91 613.28,234.99 614.79,234.86 616.31,235.51 617.83,235.26 619.34,235.08 620.86,235.16 622.37,235.12 623.89,234.86 625.41,235.53 626.92,235.29 628.44,235.6 629.96,235.18 631.47,235.33 632.99,235.04 634.51,234.88 636.02,235.6 637.54,235.54 639.06,235.12 640.57,235.59 642.09,235.53 643.61,235.12 645.12,235.37 646.64,235.66 648.15,235.29 649.67,235.66 651.19,235.1 652.7,235.22 654.22,235.49 655.74,235.1 657.25,235.17 658.77,235.63 660.29,235.32 661.8,235.57 663.32,235.14 664.84,235.09 666.35,235.24 667.87,235.11 669.38,235.74 670.9,235.2 672.42,235.42 673.93,235.07 675.45,235.41 676.97,235.3 678.48,235.32 680,235.05 681.58,234.97 683.15,235.41 684.72,234.91 686.3,234.7 687.82,234.41 689.34,234.25 690.86,233.97 692.38,233.57 693.9,233.83 695.6,232.71 697.3,231.69 699,231.26 700.7,229.94 702.4,229.25 704.1,228.87 706,225.1 707.9,222.15 709.8,220.27 711.7,218.04 713.4,216.76 715.1,216.15 716.8,215.68 718.35,214.95 719.9,214.97 721.8,214.82 723.7,215.86 725.6,216.35 727.5,216.98 729.4,218.63 731.3,219.84 733.2,221.77 734.8,222.21 736.4,223.52 738,224.07 739.6,224.69 741.17,225.07 742.75,225.84 744.33,226 745.9,227 747.42,227.04 748.94,227.99 750.46,228.65 751.98,229.08 753.5,230.12 755.02,230.43 756.54,231.27 758.06,231.81 759.58,232.23 761.1,232.91 762.62,232.93 764.14,233.26 765.66,234.06 767.18,233.9 768.7,234.43 770.36,234.25 772.02,234.87 773.68,234.97 775.34,235.34 777,235.6"/>
</g>
<line x1="511.5" y1="6.5" x2="511.5" y2="236" stroke="#262626" stroke-width="1.1"/>
<g font-size="10" fill="#222">
<text transform="translate(468.6 252.2) scale(0.97 1)" text-anchor="middle">1000</text>
<text transform="translate(507.24 252.2) scale(0.97 1)" text-anchor="middle">1050</text>
<text transform="translate(545.88 252.2) scale(0.97 1)" text-anchor="middle">1100</text>
<text transform="translate(584.51 252.2) scale(0.97 1)" text-anchor="middle">1150</text>
<text transform="translate(623.15 252.2) scale(0.97 1)" text-anchor="middle">1200</text>
<text transform="translate(661.79 252.2) scale(0.97 1)" text-anchor="middle">1250</text>
<text transform="translate(700.43 252.2) scale(0.97 1)" text-anchor="middle">1300</text>
<text transform="translate(739.06 252.2) scale(0.97 1)" text-anchor="middle">1350</text>
<text transform="translate(777.7 252.2) scale(0.97 1)" text-anchor="middle">1400</text>
<text transform="translate(461.1 238.7) scale(0.97 1)" text-anchor="end">0</text>
<text transform="translate(461.1 203.93) scale(0.97 1)" text-anchor="end">500</text>
<text transform="translate(461.1 169.15) scale(0.97 1)" text-anchor="end">1000</text>
<text transform="translate(461.1 134.38) scale(0.97 1)" text-anchor="end">1500</text>
<text transform="translate(461.1 99.61) scale(0.97 1)" text-anchor="end">2000</text>
<text transform="translate(461.1 64.84) scale(0.97 1)" text-anchor="end">2500</text>
<text transform="translate(461.1 30.06) scale(0.97 1)" text-anchor="end">3000</text>
</g>
<text transform="translate(623.15 270.6)" font-size="12" text-anchor="middle" fill="#1a1a1a">wavelength, nm</text>
<text transform="translate(422.2 116.1) rotate(-90)" font-size="12" text-anchor="middle" fill="#1a1a1a">PL Intensity, a.u.</text>
<line x1="647.8" y1="19.8" x2="674" y2="19.8" stroke="#1a1a1a" stroke-width="1.15"/>
<text transform="translate(677.3 23.7)" font-size="12" fill="#1a1a1a">ZnO:Nd in H<tspan font-size="7.44" dy="4.44">2</tspan><tspan dy="-4.44">O</tspan></text>
<line x1="647.8" y1="38.3" x2="674" y2="38.3" stroke="#ff1a1a" stroke-width="1.15"/>
<text transform="translate(677.3 42.5)" font-size="12" fill="#1a1a1a">Nd(NO<tspan font-size="7.44" dy="4.44">3</tspan><tspan dy="-4.44">)</tspan><tspan font-size="7.44" dy="4.44">3</tspan><tspan dy="-4.44"> (H</tspan><tspan font-size="7.44" dy="4.44">2</tspan><tspan dy="-4.44">O)</tspan></text>
<line x1="647.8" y1="56.5" x2="674" y2="56.5" stroke="#1ee81e" stroke-width="1.15"/>
<text transform="translate(677.3 60.7)" font-size="12" fill="#1a1a1a">ZnO:Nd in ethanol</text>
<line x1="647.8" y1="70.8" x2="674" y2="70.8" stroke="#1a1aff" stroke-width="1.15"/>
<text transform="translate(677.3 74.2)" font-size="12" fill="#1a1a1a">Nd(NO<tspan font-size="7.44" dy="4.44">3</tspan><tspan dy="-4.44">)</tspan><tspan font-size="7.44" dy="4.44">3</tspan><tspan dy="-4.44"> (ethanol)</tspan></text>
<text transform="translate(553.3 23)" font-size="12" fill="#1a1a1a">&#955;<tspan font-size="7.44" dy="3.96">ex</tspan><tspan dy="-3.96">= 580 nm</tspan></text>
<text x="409.3" y="22.7" font-size="29.5" fill="#000">c</text>
<path d="M468.6 289H777.6V518H468.6Z M468.6 518v4.6 M468.6 289v-4.6 M487.91 518v2.4 M487.91 289v-2.4 M507.23 518v4.6 M507.23 289v-4.6 M526.54 518v2.4 M526.54 289v-2.4 M545.85 518v4.6 M545.85 289v-4.6 M565.16 518v2.4 M565.16 289v-2.4 M584.48 518v4.6 M584.48 289v-4.6 M603.79 518v2.4 M603.79 289v-2.4 M623.1 518v4.6 M623.1 289v-4.6 M642.41 518v2.4 M642.41 289v-2.4 M661.73 518v4.6 M661.73 289v-4.6 M681.04 518v2.4 M681.04 289v-2.4 M700.35 518v4.6 M700.35 289v-4.6 M719.66 518v2.4 M719.66 289v-2.4 M738.98 518v4.6 M738.98 289v-4.6 M758.29 518v2.4 M758.29 289v-2.4 M777.6 518v4.6 M777.6 289v-4.6 M468.6 518h-4.5 M468.6 472.2h-4.5 M468.6 426.4h-4.5 M468.6 380.6h-4.5 M468.6 334.8h-4.5 M468.6 289h-4.5 M468.6 495.1h-2.3 M468.6 449.3h-2.3 M468.6 403.5h-2.3 M468.6 357.7h-2.3 M468.6 311.9h-2.3" fill="none" stroke="#262626" stroke-width="1.15"/>
<clipPath id="clipd"><rect x="467.4" y="288" width="310.6" height="232.5"/></clipPath>
<g clip-path="url(#clipd)" fill="none" stroke-width="1.15" stroke-linejoin="round">
<polyline stroke="#1a1a1a" points="470,516.66 476,520.2 482.1,518.94 490.1,520.2 494.2,509.81 497.2,470.2 501.7,447.3 503.5,424 505.3,406 507.1,393.4 508.9,388 510.7,380.8 512.5,379 513.7,377.2 514.8,384.4 516.1,397 517.3,409.6 518.4,417.7 519.7,420.4 521.5,431.2 523.3,438.3 525.1,449.1 526.4,466.3 528.4,462.3 530.4,480.4 531.4,492.5 534.4,490.5 538.4,498.5 542.5,500.57 546.5,502.97 550.5,514.38 554.5,502.97 558.6,512.1 562.6,516.66 563.8,518.84 565.74,514.09 567.86,519.39 569.33,519.64 570.79,513.39 572.15,516.07 573.6,518.54 575.28,511.84 577.14,520.18 578.66,519.64 580.8,512.27 582.87,512.02 584.88,510.05 586.93,518.86 589.05,516.6 591.07,515.67 592.75,517.9 594.42,518.38 595.77,512.12 597.83,509.44 599.78,515.79 601.79,519.71 603.73,517.08 605.14,519.27 606.91,518.89 608.62,515.15 610.26,519.73 612,519.03 613.48,519.33 615.09,520.01 616.99,509.98 618.63,513.61 620.83,520.12 622.21,512.32 624.31,514.7 625.7,517.4 627.84,511.08 629.91,519.27 632.03,517.8 634.01,519.69 636.25,515.17 638.24,519.21 640.11,515.46 641.96,517.95 643.94,518.12 645.48,519.53 647.42,519.83 648.88,520.03 650.79,515.77 652.58,520.13 654.27,518.1 655.59,520.2 657.86,519.78 659.4,518.76 661.26,519.99 662.97,517.88 665.08,520.2 666.65,516.48 668.9,516.25 670.62,514.29 672.16,520.15 673.91,510.69 675.91,518.85 677.85,511.66 679.35,515.37 680.95,518.96 682.47,519.26 684.07,520.13 685.71,519.95 687.73,515.22 688.96,512.81 690.38,516.67 692.19,518.2 693.72,517.17 695.09,511.44 697,517.46 699.4,515.18 705.8,512.21 708.4,500.46 711,496.5 713.6,492.6 714.9,509.24 716.8,499.1 718.8,513.69 721.3,501.94 724.6,507.76 727.8,501.94 731,497.8 733.6,509.24 736.8,501.94 739.4,499.1 742,509.24 744.6,516.66 748.5,512.21 752.4,507.76 754.9,516.66 760.1,506.39 765.3,516.66 773,512.21 776.9,516.66"/>
<polyline stroke="#ff1a1a" points="469,516.66 473,510.96 476,518.94 480.1,520.2 486.1,520.2 492.2,512.1 495.2,500.57 498.1,470.2 500.8,449.1 503.5,424 504.4,411.4 506.2,413.2 508,405.1 509.8,397 511,393.4 511.6,400.6 511.9,413.2 513.4,415.9 515.2,425.8 517,438.3 517.9,450.9 518.8,465.3 519.3,470.4 521.3,480.4 523.3,494.5 525.4,502.97 528.4,500.57 531.4,507.53 534.4,502.97 537.4,505.25 540.4,509.81 544.5,507.53 548.5,512.1 551.5,498.5 554.5,509.81 558.6,516.66 559.8,519.73 561.76,512.47 563.98,518.22 565.47,510.91 567.39,517.84 569.33,516.62 571.37,519.65 572.83,507.43 574.43,518.34 576.5,512.84 577.88,514.24 579.8,519.28 581.71,519.62 583.29,519.88 584.73,505.71 586.38,505.42 588.07,513.27 590.21,511.82 591.55,513.6 593.44,519.14 594.76,508.01 596.53,519.02 598.23,518.78 600.29,515.07 601.62,509.21 602.94,518.11 604.2,510.79 605.54,514.66 606.87,515.38 608.81,514.51 610.51,515.32 612.2,513.48 613.52,515.48 614.99,508.21 617.21,519.98 618.58,511.5 620.41,520.17 622.37,506.48 624.04,517.29 625.86,506.59 627.37,517.85 628.79,512.9 630.51,518.38 632.14,520.12 633.69,505.6 635.53,518.08 637.74,517.14 639.23,520.12 640.61,518.97 642.07,508.05 643.58,518.47 645.44,507.08 646.97,510.37 648.58,514.07 650.43,506.52 652.45,514.95 654.56,517.04 656.19,506.12 657.98,510.13 659.54,507.12 661.41,518.48 663.61,515.56 665.19,518.31 666.53,518.96 668.48,519.48 669.98,515.89 671.77,516.85 673.82,518.38 675.44,516.22 676.8,518.74 678.17,511.08 680,512.21 685.2,515.18 689,516.66 694.2,518.15 700.7,504.91 703.3,515.18 707.1,506.39 710.4,497.8 712.9,513.69 716.2,496.5 718.8,501.94 721.3,506.39 723.9,501.94 726.5,507.76 729.1,501.94 733,515.18 736.8,504.91 739.4,518.15 742.7,499.1 745.9,516.66 749.8,512.21 754.9,518.15 760.1,510.73 764,501.94 767.9,518.15 773,512.21 777.6,516.66"/>
<polyline stroke="#1ee81e" points="468.6,518.94 472,512.1 475.1,505.25 478.1,514.38 481.1,509.81 485.1,520.2 488.1,512.1 491.2,505.25 493.2,498.5 496.2,490.5 498.6,470.2 500.8,433 503.5,397 505.1,377.2 506.5,373.2 508.5,363.3 509.9,347.5 511,341.6 512.4,342.6 513.8,339.6 515.4,347.5 517,355.4 518.3,365.3 519.3,381.1 520.6,397 524.2,424 526.9,447.3 528.7,470.2 529.4,470.4 532.4,486.5 535.4,483.4 537.4,490.5 540.4,498.5 544.5,505.25 548.5,516.66 552.5,512.1 556.5,518.94 562.6,507.53 563.8,515.48 565.72,512.2 567.09,520.19 568.71,518.18 570.78,511.75 572.64,514.12 574.56,519.45 576.25,519.3 578.42,520.01 580.51,519.93 582.45,517.42 584.1,508.7 585.35,520 587.53,514.93 588.86,505.5 591.07,519.69 592.74,519.53 594.3,513.02 595.69,511.63 596.97,519.23 599.05,516.57 600.72,513.48 602.44,516.79 603.7,511.06 605.94,505.75 607.86,517.17 609.47,511.76 611.4,519.68 612.87,517.08 614.64,509.38 616.39,520.14 618.48,516.14 620.25,518.74 621.92,516.74 623.95,519.76 625.76,519.17 627.71,520.11 629.23,517.33 631.12,520.05 632.83,518.88 634.35,515.45 636.58,515.38 638.81,519.26 641.01,517.07 642.43,510.63 644.61,520.19 646.12,510.18 647.7,518.54 648.94,520.1 650.81,505.57 653.09,515.02 654.34,517.6 656.39,508.92 658.28,518.67 660.06,515.43 661.95,518.31 664.16,507.58 665.56,517.98 667.7,518.13 669.92,514.83 671.87,511.48 673.32,518.06 674.82,511.89 676.77,519.55 678.93,516.29 680,513.69 685.2,516.66 689,509.24 692.9,513.69 698.1,510.73 701.3,497.8 704.5,499.1 707.8,492.6 711,484.9 713.6,481 716.2,491.3 718.5,470.4 720.7,477.1 724.6,473.9 726.5,491.3 729.1,484.9 731.7,490 734.3,493.9 736.8,499.1 739.4,493.9 742,500.46 744.6,499.1 747.2,512.21 751.1,501.94 754.9,510.73 760.1,499.7 764,515.18 770.4,507.76 775.6,515.18 777.6,513.69"/>
<polyline stroke="#1a1aff" points="468.6,516.66 471,520.2 475.1,508.67 477.1,516.66 479.1,500.57 482.1,505.25 484.1,518.94 486.1,520.2 489.1,502.97 492.2,498.5 494.2,507.53 496.2,494.5 498.2,470.4 499.9,433 501.7,397 502.5,379.1 504.1,361.4 505.1,347.5 506.5,345.6 507.9,335.7 509.9,329.8 511.4,323.8 513,317.5 514.4,327.8 515.8,337.7 517.8,347.5 518.9,361.4 520.3,379.1 521.5,397 525.1,420.4 527.8,442 529.6,470.2 530.4,472.4 532.4,482.4 535.4,490.5 539.4,490.5 542.5,496.5 545.5,498.5 548.5,507.53 552.5,505.25 556.5,512.1 560.6,512.1 564.6,516.66 565.8,515.81 567.61,506.92 569.33,514.95 571.17,519.11 572.93,512.87 574.99,519.82 576.53,519.84 578.61,511.7 579.88,505.61 582.11,512.43 583.99,519.35 585.23,514.62 586.51,519.05 587.99,520.13 589.71,515.99 591.81,514.77 593.71,515.08 595.63,515.74 597.15,505.25 599.42,508.75 601.39,517.69 602.85,518.01 604.15,510.27 605.8,508.61 607.43,506.16 609.54,520.2 610.99,507.23 612.71,505.65 614.35,519.94 616.24,510.02 617.74,519.86 619.32,506.03 621.34,519.65 622.82,519.77 624.11,509.65 625.52,514.11 627.22,519.05 629.21,519.56 631.11,519.66 632.78,518.84 634.29,505.87 636.36,517.83 638.51,518.86 640.15,508.45 642.05,519.78 644.31,518.83 645.81,510.14 647.38,517.92 648.68,519.84 650.52,518.53 652.37,516.96 654.07,506.14 655.81,513.85 657.94,519.12 659.33,507.27 661.41,518.46 662.84,510.81 665.05,518.99 667.27,507.85 669.13,516.27 670.46,520.1 672.7,518.57 674.66,518.37 676.75,513.47 678.29,519.19 680,516.66 683.9,512.21 687.8,513.69 692.3,504.11 695.5,510.04 699.4,512.21 702,504.91 704.5,492 706.5,495.9 707.8,479.7 710.4,487.5 713.6,472.6 715.5,479.1 717.5,481 720.7,486.2 724.6,474.5 727.2,483.6 729.1,479.7 731.7,486.2 733.6,491.3 735.6,482.3 738.1,488.8 740.7,492.6 743.3,484.2 745.9,491.3 748.5,496.5 751.1,510.73 753.6,509.24 756.2,504.91 758.8,513.69 762.7,507.76 765.3,513.69 770.4,515.18 775.6,510.73 777.6,516.66"/>
</g>
<g font-size="10" fill="#222">
<text transform="translate(468.6 534.4) scale(0.97 1)" text-anchor="middle">1000</text>
<text transform="translate(507.23 534.4) scale(0.97 1)" text-anchor="middle">1050</text>
<text transform="translate(545.85 534.4) scale(0.97 1)" text-anchor="middle">1100</text>
<text transform="translate(584.48 534.4) scale(0.97 1)" text-anchor="middle">1150</text>
<text transform="translate(623.1 534.4) scale(0.97 1)" text-anchor="middle">1200</text>
<text transform="translate(661.73 534.4) scale(0.97 1)" text-anchor="middle">1250</text>
<text transform="translate(700.35 534.4) scale(0.97 1)" text-anchor="middle">1300</text>
<text transform="translate(738.98 534.4) scale(0.97 1)" text-anchor="middle">1350</text>
<text transform="translate(777.6 534.4) scale(0.97 1)" text-anchor="middle">1400</text>
<text transform="translate(460.6 520.7) scale(0.97 1)" text-anchor="end">0</text>
<text transform="translate(460.6 474.9) scale(0.97 1)" text-anchor="end">200</text>
<text transform="translate(460.6 429.1) scale(0.97 1)" text-anchor="end">400</text>
<text transform="translate(460.6 383.3) scale(0.97 1)" text-anchor="end">600</text>
<text transform="translate(460.6 337.5) scale(0.97 1)" text-anchor="end">800</text>
<text transform="translate(460.6 291.7) scale(0.97 1)" text-anchor="end">1000</text>
</g>
<text transform="translate(623.1 552.7)" font-size="12" text-anchor="middle" fill="#1a1a1a">wavelength, nm</text>
<text transform="translate(422.2 398.3) rotate(-90)" font-size="12" text-anchor="middle" fill="#1a1a1a">PL Intensity, a.u.</text>
<line x1="646.9" y1="302" x2="673" y2="302" stroke="#1a1a1a" stroke-width="1.15"/>
<text transform="translate(676.3 306.1)" font-size="12" fill="#1a1a1a">ZnO:Nd in H<tspan font-size="7.44" dy="4.44">2</tspan><tspan dy="-4.44">O</tspan></text>
<line x1="646.9" y1="320.2" x2="673" y2="320.2" stroke="#ff1a1a" stroke-width="1.15"/>
<text transform="translate(676.3 324.2)" font-size="12" fill="#1a1a1a">Nd(NO<tspan font-size="7.44" dy="4.44">3</tspan><tspan dy="-4.44">)</tspan><tspan font-size="7.44" dy="4.44">3</tspan><tspan dy="-4.44"> (H</tspan><tspan font-size="7.44" dy="4.44">2</tspan><tspan dy="-4.44">O)</tspan></text>
<line x1="646.9" y1="338.4" x2="673" y2="338.4" stroke="#1ee81e" stroke-width="1.15"/>
<text transform="translate(676.3 342.2)" font-size="12" fill="#1a1a1a">ZnO:Nd in ethanol</text>
<line x1="646.9" y1="352.5" x2="673" y2="352.5" stroke="#1a1aff" stroke-width="1.15"/>
<text transform="translate(676.3 356.7)" font-size="12" fill="#1a1a1a">Nd(NO<tspan font-size="7.44" dy="4.44">3</tspan><tspan dy="-4.44">)</tspan><tspan font-size="7.44" dy="4.44">3</tspan><tspan dy="-4.44"> (ethanol)</tspan></text>
<text transform="translate(552.2 306)" font-size="12" fill="#1a1a1a">&#955;<tspan font-size="7.44" dy="3.96">ex</tspan><tspan dy="-3.96">= 800 nm</tspan></text>
<text x="408.5" y="304.7" font-size="29.5" fill="#000">d</text>
</svg>
</body></html>
